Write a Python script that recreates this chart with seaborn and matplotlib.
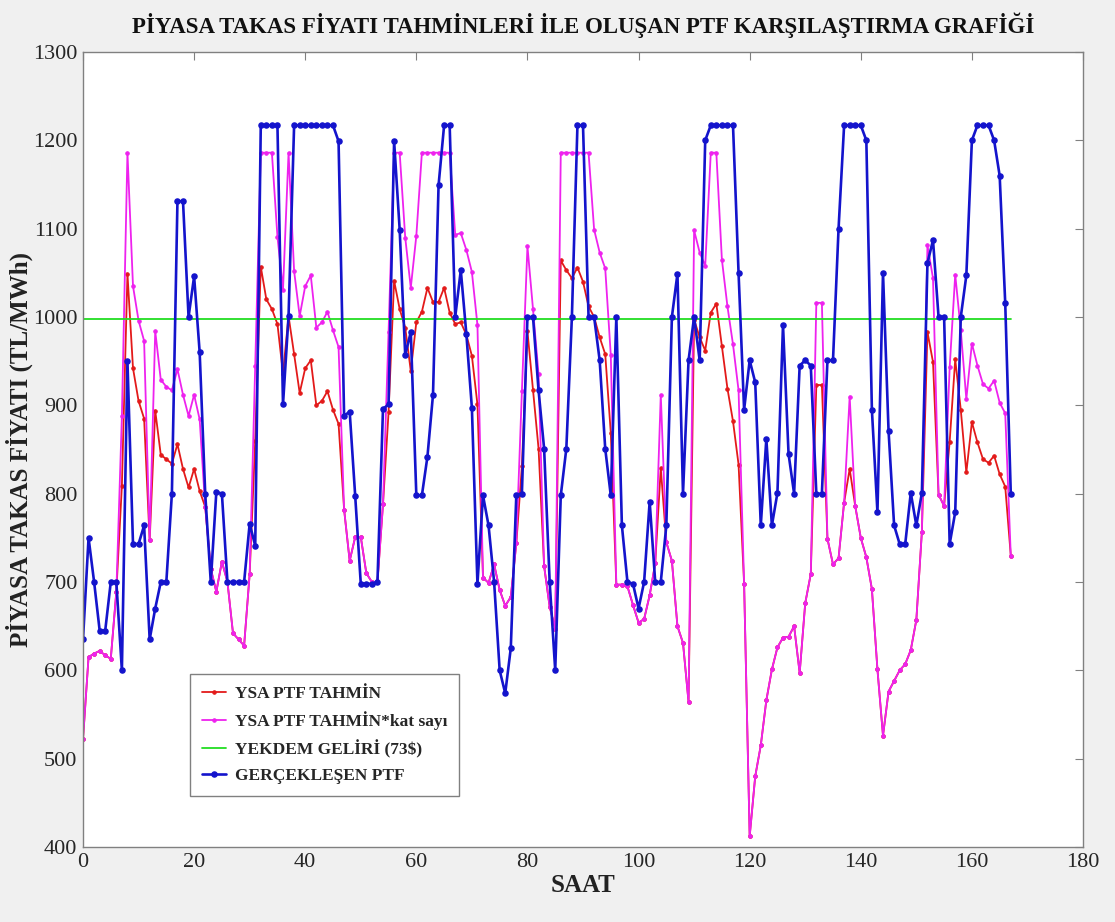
import numpy as np
import pandas as pd
import matplotlib
matplotlib.use("Agg")
import matplotlib.pyplot as plt
import seaborn as sns

# hourly values (hours 0..167)
saat = list(range(168))

ysa_tahmin = [
    522, 615, 619, 622, 617, 613, 689, 809, 1049, 942,
    905, 885, 747, 894, 844, 839, 834, 856, 828, 807,
    828, 803, 785, 715, 689, 723, 700, 642, 635, 628,
    709, 860, 1057, 1020, 1009, 992, 936, 1001, 958, 914,
    942, 951, 900, 905, 916, 895, 879, 782, 724, 751,
    751, 710, 700, 700, 788, 892, 1041, 1009, 988, 939,
    994, 1006, 1033, 1017, 1017, 1033, 1005, 992, 994, 980,
    956, 901, 705, 699, 720, 691, 673, 683, 744, 831,
    984, 917, 851, 718, 672, 647, 1064, 1053, 1044, 1056,
    1040, 1012, 1000, 977, 958, 869, 697, 697, 695, 674,
    654, 658, 685, 721, 829, 745, 724, 650, 631, 564,
    997, 977, 962, 1005, 1015, 967, 919, 882, 833, 698,
    412, 480, 515, 566, 601, 626, 637, 638, 650, 597,
    676, 709, 923, 923, 749, 720, 727, 790, 828, 786,
    750, 728, 692, 601, 526, 576, 588, 600, 607, 623,
    657, 757, 983, 949, 799, 786, 859, 952, 895, 824,
    881, 858, 839, 835, 843, 822, 808, 730,
]

ysa_katsayi = [
    522, 615, 619, 622, 617, 613, 689, 888, 1186, 1035,
    996, 973, 747, 984, 929, 921, 917, 941, 912, 888,
    912, 884, 785, 715, 689, 723, 700, 642, 635, 628,
    709, 945, 1186, 1186, 1186, 1091, 1031, 1186, 1052, 1001,
    1035, 1047, 988, 994, 1006, 985, 966, 782, 724, 751,
    751, 710, 700, 700, 788, 983, 1186, 1186, 1090, 1033,
    1092, 1186, 1186, 1186, 1186, 1186, 1186, 1093, 1095, 1076,
    1051, 991, 705, 699, 720, 691, 673, 683, 744, 916,
    1080, 1009, 935, 718, 672, 647, 1186, 1186, 1186, 1186,
    1186, 1186, 1099, 1073, 1055, 957, 697, 697, 695, 674,
    654, 658, 685, 721, 912, 745, 724, 650, 631, 564,
    1098, 1073, 1058, 1186, 1186, 1065, 1012, 969, 917, 698,
    412, 480, 515, 566, 601, 626, 637, 638, 650, 597,
    676, 709, 1016, 1016, 749, 720, 727, 790, 910, 786,
    750, 728, 692, 601, 526, 576, 588, 600, 607, 623,
    657, 757, 1081, 1044, 799, 786, 943, 1048, 985, 907,
    970, 945, 924, 919, 928, 903, 891, 730,
]

yekdem = [998] * 168

gerceklesen = [
    635, 750, 700, 645, 645, 700, 700, 600, 950, 743,
    743, 764, 635, 670, 700, 700, 800, 1131, 1131, 1000,
    1046, 960, 800, 700, 802, 800, 700, 700, 700, 700,
    766, 741, 1217, 1217, 1217, 1217, 901, 1001, 1217, 1217,
    1217, 1217, 1217, 1217, 1217, 1217, 1199, 888, 893, 797,
    698, 698, 698, 700, 896, 901, 1199, 1099, 957, 983,
    798, 798, 842, 912, 1149, 1217, 1217, 1000, 1053, 981,
    897, 698, 798, 764, 700, 600, 574, 625, 799, 800,
    1000, 1000, 917, 851, 700, 600, 798, 851, 1000, 1217,
    1217, 1000, 1000, 951, 851, 798, 1000, 764, 700, 698,
    670, 700, 791, 700, 700, 764, 1000, 1049, 800, 951,
    1000, 951, 1200, 1217, 1217, 1217, 1217, 1217, 1050, 895,
    951, 926, 764, 862, 764, 801, 991, 845, 800, 945,
    951, 945, 800, 800, 951, 951, 1100, 1217, 1217, 1217,
    1217, 1200, 895, 779, 1050, 871, 764, 743, 743, 801,
    764, 801, 1061, 1087, 1000, 1000, 743, 779, 1000, 1047,
    1200, 1217, 1217, 1217, 1200, 1160, 1016, 800,
]

x_ticks = list(range(0, 181, 20))
y_ticks = list(range(400, 1301, 100))

sns.set_theme(style="white")
plt.rcParams['font.family'] = ['Liberation Serif', 'DejaVu Serif']

fig = plt.figure(figsize=(11.15, 9.22), dpi=100, facecolor='#f0f0f0')
ax = fig.add_axes([83 / 1115, 1 - 847 / 922, 1000 / 1115, 795 / 922])
ax.set_facecolor('white')

sns.lineplot(x=saat, y=ysa_tahmin, ax=ax, color='#e31a1a', linewidth=1.3,
             marker='.', markersize=5, markeredgecolor='#e31a1a',
             label='YSA PTF TAHMİN')
sns.lineplot(x=saat, y=ysa_katsayi, ax=ax, color='#ee22ee', linewidth=1.3,
             marker='.', markersize=5, markeredgecolor='#ee22ee',
             label='YSA PTF TAHMİN*kat sayı')
sns.lineplot(x=saat, y=yekdem, ax=ax, color='#22dd22', linewidth=1.3,
             label='YEKDEM GELİRİ (73$)')
sns.lineplot(x=saat, y=gerceklesen, ax=ax, color='#1414cc', linewidth=1.9,
             marker='o', markersize=3.6, markeredgecolor='#1414cc',
             markeredgewidth=1.1, label='GERÇEKLEŞEN PTF')

ax.set_xlim(0, 180)
ax.set_ylim(400, 1300)
ax.set_xticks(x_ticks)
ax.set_yticks(y_ticks)
ax.tick_params(direction='in', length=6, width=0.8, color='#808080',
               top=True, right=True, labelsize=16, labelcolor='#262626', pad=4)
for s in ax.spines.values():
    s.set_color('#808080')
    s.set_linewidth(1.0)

ax.set_title('PİYASA TAKAS FİYATI TAHMİNLERİ İLE OLUŞAN PTF KARŞILAŞTIRMA GRAFİĞİ',
             fontsize=16.5, fontweight='bold', color='#111111', pad=14)
ax.set_xlabel('SAAT', fontsize=18, fontweight='bold', color='#222222', labelpad=2)
ax.set_ylabel('PİYASA TAKAS FİYATI (TL/MWh)', fontsize=18, fontweight='bold',
              color='#222222')
ax.yaxis.set_label_coords(-0.05, 0.5)

leg = ax.legend(loc='lower left', bbox_to_anchor=(0.098, 0.053),
                prop={'weight': 'bold', 'size': 12.5}, frameon=True, fancybox=False,
                edgecolor='#808080', framealpha=1, handlelength=1.4,
                borderpad=0.7, labelspacing=0.55, handletextpad=0.5)
leg.get_frame().set_linewidth(1.0)

fig.savefig('out.png', dpi=100, facecolor=fig.get_facecolor())
